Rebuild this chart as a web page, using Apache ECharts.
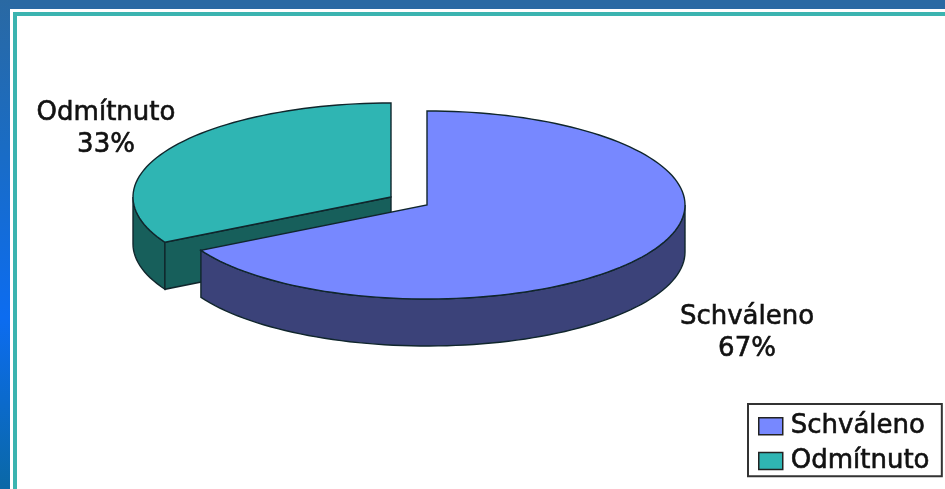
<!DOCTYPE html>
<html>
<head>
<meta charset="utf-8">
<style>
html, body { margin: 0; padding: 0; background: #fff; }
#main { width: 945px; height: 489px; }
</style>
<script src="https://cdn.jsdelivr.net/npm/echarts@6/dist/echarts.min.js"></script>
</head>
<body>
<div id="main"></div>
<script>
// 数据
var categories = ['Schváleno', 'Odmítnuto'];
var shares = [67, 33];

// 样式
var topColors = ['#7788ff', '#2fb5b3'];
var sideColors = ['#3b4279', '#175f5b'];
var centers = [[427, 205], [391, 197]];
var labelPos = [[747, 333], [106, 129]];
var rx = 258, ry = 94, depth = 47;
var lineColor = '#10262c';
var textFont = '"DejaVu Sans", sans-serif';

var myChart = echarts.init(document.getElementById('main'));

function ellipsePoint(c, deg, dy) {
    var t = deg * Math.PI / 180;
    return [c[0] + rx * Math.sin(t), c[1] - ry * Math.cos(t) + (dy || 0)];
}

// 取样椭圆弧
function arcPoints(c, from, to, dy) {
    var pts = [];
    var n = Math.max(2, Math.ceil(Math.abs(to - from) / 2));
    for (var i = 0; i <= n; i++) {
        pts.push(ellipsePoint(c, from + (to - from) * i / n, dy));
    }
    return pts;
}

function poly(points, fill) {
    return {
        type: 'polygon',
        shape: { points: points },
        style: { fill: fill, stroke: lineColor, lineWidth: 1.4 }
    };
}

function sliceItem(params, api) {
    var idx = params.seriesIndex;
    var total = shares.reduce(function (a, b) { return a + b; }, 0);
    var start = 0;
    for (var i = 0; i < idx; i++) {
        start += shares[i] / total * 360;
    }
    var end = start + api.value(0) / total * 360;
    var c = centers[idx];
    var children = [];

    // 朝前的侧面：从 90 度到 270 度
    var from = Math.max(start, 90), to = Math.min(end, 270);
    if (to > from) {
        var front = arcPoints(c, from, to, 0);
        var back = arcPoints(c, to, from, depth);
        children.push(poly(front.concat(back), sideColors[idx]));
    }
    // 切面：起始边落在前半部分时才看得到
    if (start > 180 && start < 360) {
        var p = ellipsePoint(c, start, 0);
        children.push(poly([c, p, [p[0], p[1] + depth], [c[0], c[1] + depth]], sideColors[idx]));
    }
    // 顶面
    children.push(poly([c].concat(arcPoints(c, start, end, 0)), topColors[idx]));
    // 标签
    children.push({
        type: 'text',
        x: labelPos[idx][0],
        y: labelPos[idx][1],
        style: {
            text: categories[idx] + '\n' + api.value(0) + '%',
            fill: '#111',
            stroke: '#111',
            lineWidth: 0.6,
            font: '26px ' + textFont,
            align: 'center',
            verticalAlign: 'middle',
            lineHeight: 32
        }
    });
    return { type: 'group', children: children };
}

var series = [];
for (var i = 0; i < categories.length; i++) {
    series.push({
        name: categories[i],
        type: 'custom',
        coordinateSystem: 'none',
        // 蓝色扇形压在青色扇形上面
        z: 5 - i,
        silent: true,
        itemStyle: { color: topColors[i] },
        renderItem: sliceItem,
        data: [[shares[i]]]
    });
}

var option = {
    animation: false,
    backgroundColor: '#ffffff',
    // 外框
    graphic: [
        { type: 'rect', silent: true, z: 0, shape: { x: 0, y: 0, width: 945, height: 9 }, style: { fill: '#2a69a3' } },
        {
            type: 'rect', silent: true, z: 0, shape: { x: 0, y: 0, width: 10, height: 489 },
            style: {
                fill: new echarts.graphic.LinearGradient(0, 0, 0, 1, [
                    { offset: 0, color: '#2a69a3' },
                    { offset: 0.3, color: '#1a6cc4' },
                    { offset: 0.65, color: '#0c6cf0' },
                    { offset: 1, color: '#0a68a6' }
                ])
            }
        },
        { type: 'rect', silent: true, z: 0, shape: { x: 13, y: 12, width: 932, height: 4 }, style: { fill: '#3bb4b0' } },
        { type: 'rect', silent: true, z: 0, shape: { x: 13, y: 12, width: 4, height: 477 }, style: { fill: '#3bb4b0' } }
    ],
    legend: {
        orient: 'vertical',
        left: 748,
        top: 404,
        padding: [9, 12, 2, 10],
        itemWidth: 24,
        itemHeight: 17,
        itemGap: 8,
        backgroundColor: '#ffffff',
        borderColor: '#333',
        borderWidth: 2,
        selectedMode: false,
        icon: 'rect',
        itemStyle: { borderColor: '#222', borderWidth: 1.5 },
        textStyle: {
            color: '#111',
            fontFamily: textFont,
            fontSize: 26,
            lineHeight: 24,
            textBorderColor: '#111',
            textBorderWidth: 0.6,
            padding: [0, 0, 0, 3]
        },
        data: categories
    },
    series: series
};
myChart.setOption(option);
</script>
</body>
</html>
